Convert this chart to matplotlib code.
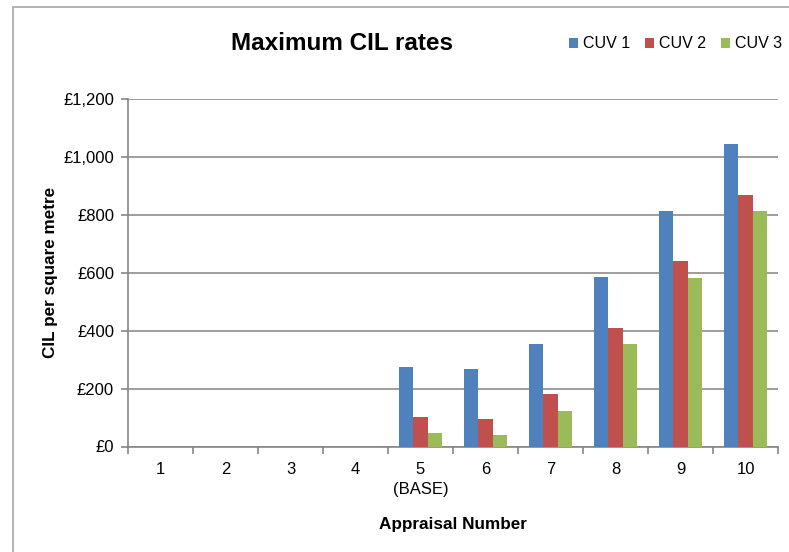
import matplotlib
matplotlib.use("Agg")
import matplotlib.pyplot as plt
from matplotlib.patches import Rectangle
from matplotlib.ticker import FuncFormatter
import numpy as np

plt.rcParams["font.family"] = ["Liberation Sans", "DejaVu Sans"]

appraisals = ["1", "2", "3", "4", "5\n(BASE)", "6", "7", "8", "9", "10"]
series = ["CUV 1", "CUV 2", "CUV 3"]
cuv1 = [0, 0, 0, 0, 276, 269, 355, 584, 814, 1044]
cuv2 = [0, 0, 0, 0, 103, 95, 182, 410, 639, 868]
cuv3 = [0, 0, 0, 0, 47, 40, 124, 354, 583, 813]
colors = ["#4f81bd", "#c0504d", "#9bbb59"]

fig = plt.figure(figsize=(7.89, 5.52), dpi=100)
fig.patches.append(Rectangle((12.5 / 789, -0.05), 1.0, 1 - 7 / 552 + 0.05,
                             transform=fig.transFigure, fill=False,
                             edgecolor="#a6a6a6", linewidth=1.2))

ax = fig.add_axes([128 / 789, 1 - 446.5 / 552, 650 / 789, 347.5 / 552])
x = np.arange(len(appraisals))
w = 0.22
for i, (vals, name) in enumerate(zip([cuv1, cuv2, cuv3], series)):
    ax.bar(x + (i - 1) * w, vals, w, color=colors[i], label=name, zorder=3)

ax.set_xlim(-0.5, len(appraisals) - 0.5)
ax.set_ylim(0, 1200)
ax.set_yticks(range(0, 1201, 200))
ax.yaxis.set_major_formatter(FuncFormatter(lambda v, _: f"£{v:,.0f}"))
ax.set_xticks(x)
ax.set_xticklabels(appraisals, linespacing=1.45)
ax.set_xticks(np.arange(-0.5, len(appraisals), 1), minor=True)
ax.tick_params(axis="x", which="major", length=0, pad=11, labelsize=12)
ax.tick_params(axis="x", which="minor", length=5, color="#868686", width=1.2)
ax.tick_params(axis="y", length=5, color="#868686", width=1.2, labelsize=12, pad=5)

ax.grid(axis="y", color="#8c8c8c", linewidth=1.2, zorder=0)
for s in ("top", "right"):
    ax.spines[s].set_visible(False)
for s in ("left", "bottom"):
    ax.spines[s].set_color("#868686")
    ax.spines[s].set_linewidth(1.2)

ax.set_xlabel("Appraisal Number", fontsize=12.3, fontweight="bold", labelpad=14)
ax.set_ylabel("CIL per square metre", fontsize=12.3, fontweight="bold", labelpad=4)

fig.text(342 / 789, 1 - 43 / 552, "Maximum CIL rates", ha="center", va="center",
         fontsize=17.5, fontweight="bold")
fig.legend(loc="center left", bbox_to_anchor=(563 / 789, 1 - 44 / 552), ncol=3,
           frameon=False, fontsize=11.5, handlelength=0.55, handleheight=0.55,
           handletextpad=0.3, columnspacing=0.95, borderaxespad=0)

fig.savefig("out.png", dpi=100)
